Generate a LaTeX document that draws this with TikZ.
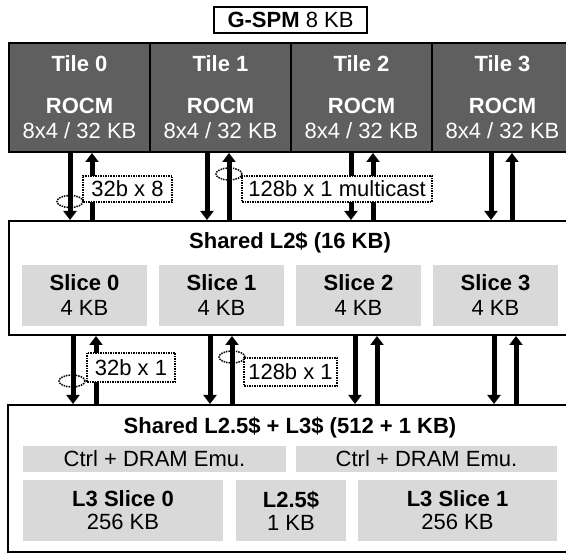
\documentclass[tikz,border=0pt]{standalone}
\usepackage{fontspec}
\setmainfont{Liberation Sans}
\usepackage{xcolor}
\usetikzlibrary{arrows.meta,shapes.geometric,positioning}

\definecolor{tilegray}{HTML}{5F5F5F}
\definecolor{slicegray}{HTML}{D9D9D9}

\tikzset{
  tilebox/.style={draw=black, line width=2pt, fill=tilegray, text=white,
    minimum width=141pt, minimum height=109pt, align=center, inner sep=0pt},
  bigbox/.style={draw=black, line width=2pt, fill=white, inner sep=0pt},
  slicebox/.style={fill=slicegray, align=center, inner sep=0pt},
  tagbox/.style={draw=black, line width=1.5pt, densely dotted, fill=white,
    inner sep=0pt},
  busring/.style={ellipse, draw=black, line width=1.5pt, densely dotted,
    minimum width=26pt, minimum height=12pt, inner sep=0pt},
  dnarrow/.style={line width=5pt, -{Triangle[length=9pt,width=13pt]}},
  uparrow/.style={line width=5pt, {Triangle[length=9pt,width=13pt]}-},
}

\begin{document}
\begin{tikzpicture}[x=1pt, y=-1pt, font=\fontsize{22}{25}\selectfont]
  \clip (0,0) rectangle (566,553);
  % Global scratchpad
  \node[draw=black, line width=2pt, minimum width=153pt, minimum height=26pt, inner sep=0pt]
    (gspm) at (290.5,20) {\textbf{G-SPM} 8 KB};
  % Tiles
  \node[tilebox] (t0) at (79.5,97.5) {\textbf{Tile 0}\\[17pt]\textbf{ROCM}\\8x4 / 32 KB};
  \node[tilebox] (t1) at (220.5,97.5) {\textbf{Tile 1}\\[17pt]\textbf{ROCM}\\8x4 / 32 KB};
  \node[tilebox] (t2) at (361.5,97.5) {\textbf{Tile 2}\\[17pt]\textbf{ROCM}\\8x4 / 32 KB};
  \node[tilebox] (t3) at (502.5,97.5) {\textbf{Tile 3}\\[17pt]\textbf{ROCM}\\8x4 / 32 KB};
  % Shared L2
  \node[bigbox, minimum width=563pt, minimum height=114pt] (l2) at (290.5,278) {};
  \node (l2title) at (290,243) {\textbf{Shared L2\$ (16 KB)}};
  \node[slicebox, minimum width=125pt, minimum height=61pt] (s0) at (84.5,295.5) {\textbf{Slice 0}\\4 KB};
  \node[slicebox, minimum width=125pt, minimum height=61pt] (s1) at (221.5,295.5) {\textbf{Slice 1}\\4 KB};
  \node[slicebox, minimum width=125pt, minimum height=61pt] (s2) at (358.5,295.5) {\textbf{Slice 2}\\4 KB};
  \node[slicebox, minimum width=125pt, minimum height=61pt] (s3) at (495.5,295.5) {\textbf{Slice 3}\\4 KB};
  % Shared L2.5 + L3
  \node[bigbox, minimum width=564pt, minimum height=147pt] (l3) at (290,478.5) {};
  \node (l3title) at (290,428) {\textbf{Shared L2.5\$ + L3\$ (512 + 1 KB)}};
  \node[slicebox, minimum width=263pt, minimum height=26pt] (c0) at (154.5,459) {Ctrl + DRAM Emu.};
  \node[slicebox, minimum width=261pt, minimum height=26pt] (c1) at (426.5,459) {Ctrl + DRAM Emu.};
  \node[slicebox, minimum width=200pt, minimum height=61pt] (l3s0) at (123,510.5) {\textbf{L3 Slice 0}\\[-2pt]256 KB};
  \node[slicebox, minimum width=110pt, minimum height=61pt] (l25) at (291,510.5) {\textbf{L2.5\$}\\[-2pt]1 KB};
  \node[slicebox, minimum width=199pt, minimum height=61pt] (l3s1) at (457.5,510.5) {\textbf{L3 Slice 1}\\[-2pt]256 KB};
  % Tile <-> L2 links
  \draw[dnarrow] (t0.south -| 70,0) -- (l2.north -| 70,0);
  \draw[uparrow] (t0.south -| 92,0) -- (l2.north -| 92,0);
  \draw[dnarrow] (t1.south -| 207,0) -- (l2.north -| 207,0);
  \draw[uparrow] (t1.south -| 229,0) -- (l2.north -| 229,0);
  \draw[dnarrow] (t2.south -| 351,0) -- (l2.north -| 351,0);
  \draw[uparrow] (t2.south -| 373,0) -- (l2.north -| 373,0);
  \draw[dnarrow] (t3.south -| 491,0) -- (l2.north -| 491,0);
  \draw[uparrow] (t3.south -| 512,0) -- (l2.north -| 512,0);
  % L2 <-> L3 links
  \draw[dnarrow] (l2.south -| 73,0) -- (l3.north -| 73,0);
  \draw[uparrow] (l2.south -| 96,0) -- (l3.north -| 96,0);
  \draw[dnarrow] (l2.south -| 210,0) -- (l3.north -| 210,0);
  \draw[uparrow] (l2.south -| 232,0) -- (l3.north -| 232,0);
  \draw[dnarrow] (l2.south -| 355,0) -- (l3.north -| 355,0);
  \draw[uparrow] (l2.south -| 377,0) -- (l3.north -| 377,0);
  \draw[dnarrow] (l2.south -| 494,0) -- (l3.north -| 494,0);
  \draw[uparrow] (l2.south -| 516,0) -- (l3.north -| 516,0);
  % Bus width tags
  \node[busring] (r0) at (70,201.5) {};
  \node[tagbox, minimum width=89pt, minimum height=26pt] (w0) at (127.5,189) {32b x 8};
  \node[busring] (r1) at (229,174) {};
  \node[tagbox, minimum width=190pt, minimum height=26pt] (w1) at (337,189) {128b x 1 multicast};
  \node[busring] (r2) at (72,381) {};
  \node[tagbox, minimum width=88pt, minimum height=29pt] (w2) at (131,367.5) {32b x 1};
  \node[busring] (r3) at (232,357) {};
  \node[tagbox, minimum width=93pt, minimum height=28pt] (w3) at (290.5,372) {128b x 1};
\end{tikzpicture}
\end{document}
